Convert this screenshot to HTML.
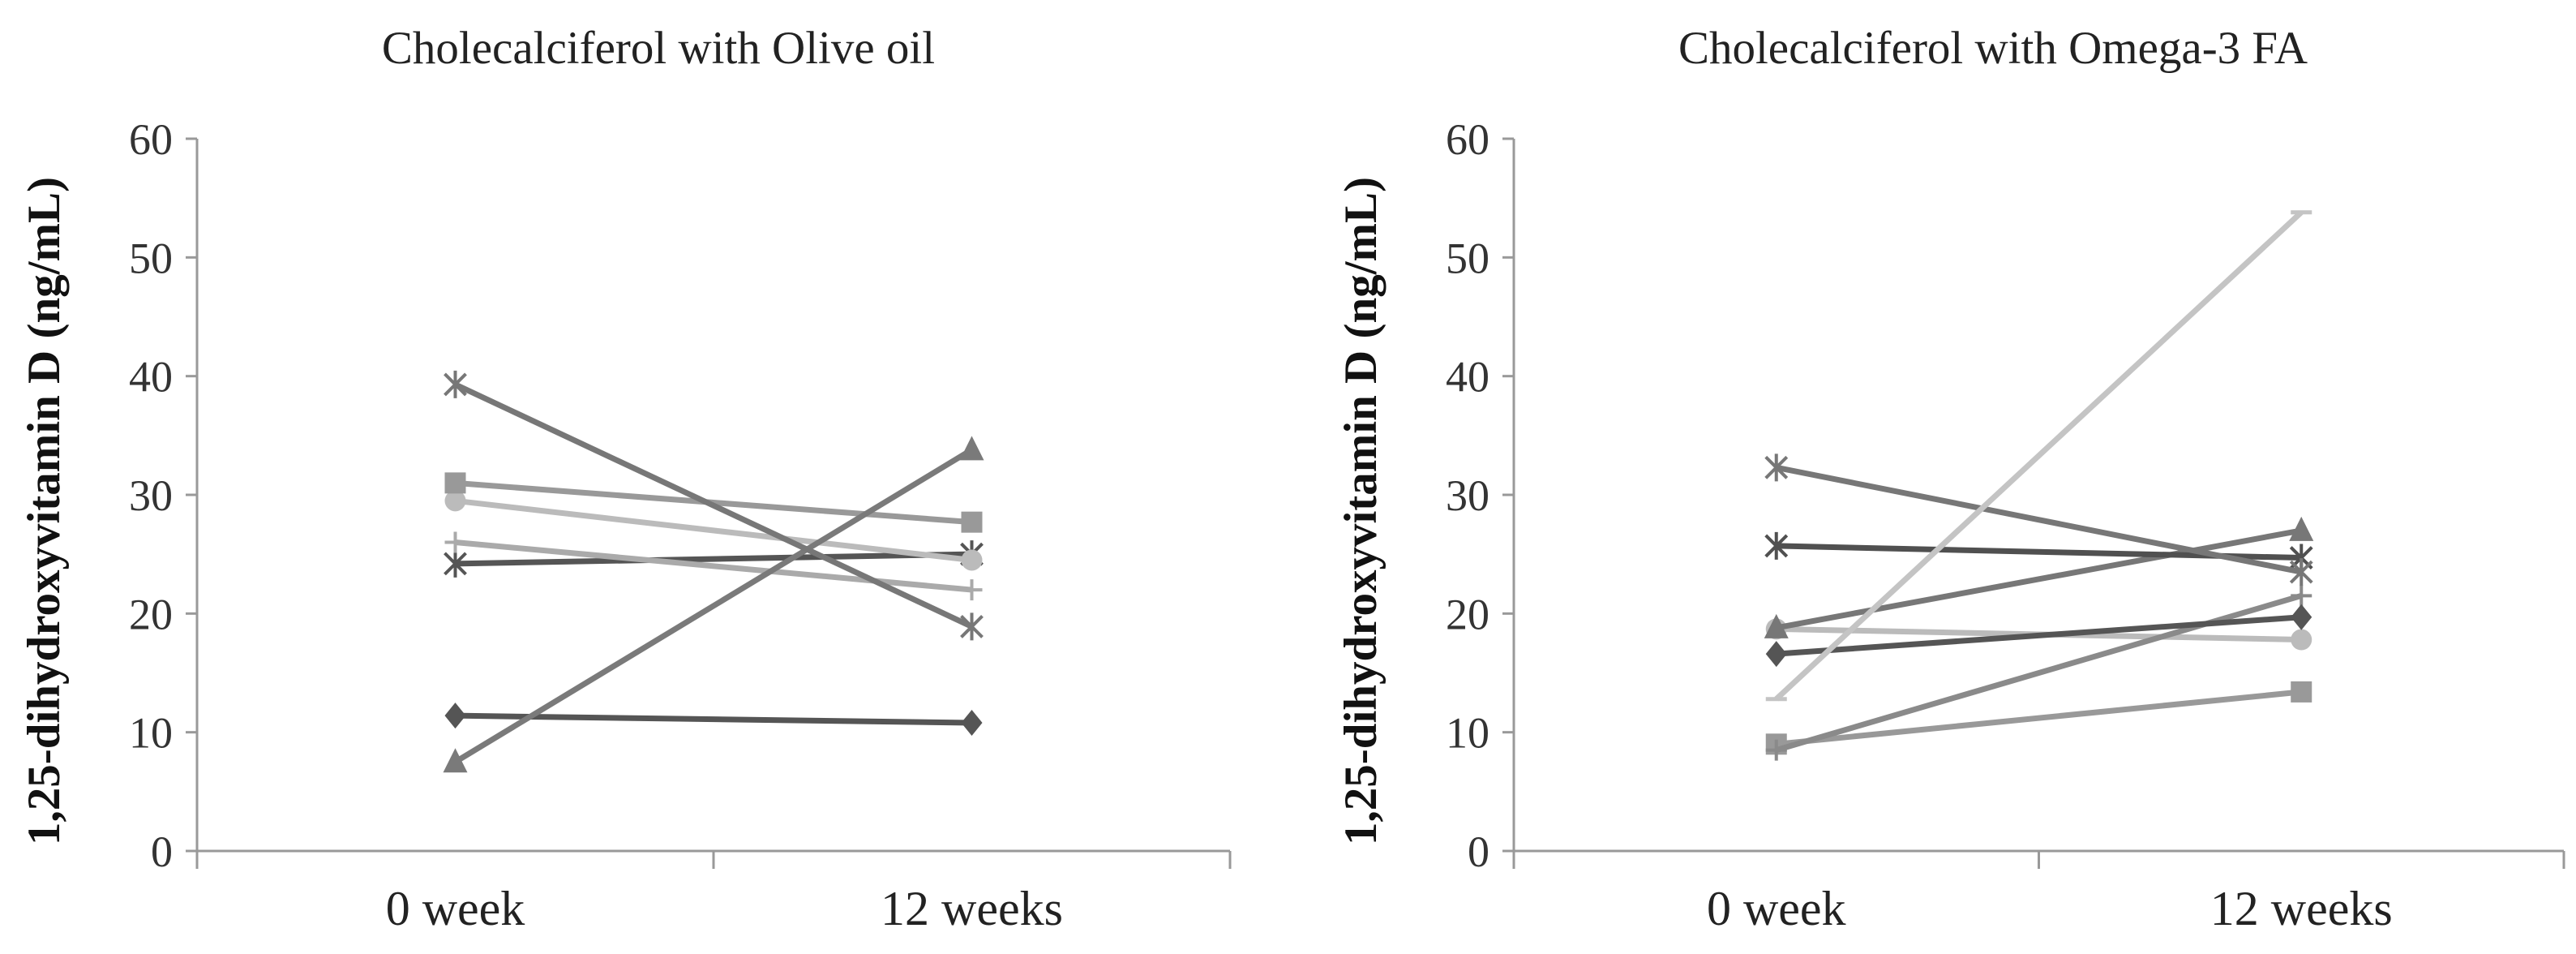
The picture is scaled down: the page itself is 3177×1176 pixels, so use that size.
<!DOCTYPE html>
<html><head><meta charset="utf-8"><style>
html,body{margin:0;padding:0;background:#fff;}
svg{display:block;font-family:"Liberation Serif",serif;}
</style></head><body>
<svg id="chart" width="3177" height="1176" viewBox="0 0 3177 1176" xmlns="http://www.w3.org/2000/svg"></svg>
<script>
const categories = ["0 week", "12 weeks"];
const yTicks = [0, 10, 20, 30, 40, 50, 60];
const titles = ["Cholecalciferol with Olive oil", "Cholecalciferol with Omega-3 FA"];
const yTitle = "1,25-dihydroxyvitamin D (ng/mL)";
// Olive oil panel series
const oliveX1 = [39.3, 18.9];
const oliveTri = [7.5, 33.8];
const oliveSq = [31.0, 27.7];
const oliveCirc = [29.5, 24.5];
const olivePlus = [26.0, 22.0];
const oliveX2 = [24.2, 25.0];
const oliveDia = [11.4, 10.8];
// Omega-3 panel series
const omegaX1 = [32.3, 23.5];
const omegaStar = [25.7, 24.7];
const omegaTri = [18.8, 27.0];
const omegaCirc = [18.7, 17.8];
const omegaDia = [16.6, 19.7];
const omegaDash = [12.8, 53.8];
const omegaSq = [9.0, 13.4];
const omegaPlus = [8.5, 21.5];

const NS = "http://www.w3.org/2000/svg";
const svg = document.getElementById("chart");
function mk(tag, attrs, parent) {
  const e = document.createElementNS(NS, tag);
  for (const k in attrs) e.setAttribute(k, attrs[k]);
  (parent || svg).appendChild(e);
  return e;
}
const panels = [
  {x0: 243, x1: 1517, title: titles[0], tx: 812, series: [
    {v: oliveX2, c: "#555", m: "x", n: "olive-x-dark"},
    {v: olivePlus, c: "#aaa", m: "plus", n: "olive-plus"},
    {v: oliveCirc, c: "#bbb", m: "circle", n: "olive-circle"},
    {v: oliveSq, c: "#999", m: "square", n: "olive-square"},
    {v: oliveDia, c: "#555", m: "diamond", n: "olive-diamond"},
    {v: oliveTri, c: "#7a7a7a", m: "triangle", n: "olive-triangle"},
    {v: oliveX1, c: "#777", m: "x", n: "olive-x"}
  ]},
  {x0: 1867, x1: 3162, title: titles[1], tx: 2458, series: [
    {v: omegaCirc, c: "#bbb", m: "circle", n: "omega-circle"},
    {v: omegaSq, c: "#999", m: "square", n: "omega-square"},
    {v: omegaPlus, c: "#8a8a8a", m: "plus", n: "omega-plus"},
    {v: omegaDia, c: "#555", m: "diamond", n: "omega-diamond"},
    {v: omegaTri, c: "#777", m: "triangle", n: "omega-triangle"},
    {v: omegaStar, c: "#505050", m: "x", n: "omega-star"},
    {v: omegaX1, c: "#777", m: "x", n: "omega-x"},
    {v: omegaDash, c: "#c4c4c4", m: "dash", n: "omega-dash"}
  ]}
];
const yBase = 1049, yTop = 171, yMax = 60;
function yScale(v) { return yBase - (v / yMax) * (yBase - yTop); }

panels.forEach((p, pi) => {
  const g = mk("g", {});
  
  
  const band = (p.x1 - p.x0) / categories.length;
  const xScale = i => p.x0 + band * (i + 0.5);
  const t = mk("text", {x: p.tx, y: 78, "font-size": 57, "text-anchor": "middle", fill: "#222"}, g);
  t.textContent = p.title;
  
  
  const yt = mk("text", {transform: `translate(${p.x0 - 170},${(yBase + yTop) / 2 + 20}) rotate(-90)`, "font-size": 57, "font-weight": "bold", "text-anchor": "middle", fill: "#111"}, g);
  yt.textContent = yTitle;
  
  
  const ax = mk("line", {x1: p.x0, y1: yTop, x2: p.x0, y2: yBase, stroke: "#999", "stroke-width": 3}, g);
  
  
  yTicks.forEach(v => {
    const y = yScale(v);
    mk("line", {x1: p.x0 - 14, y1: y, x2: p.x0, y2: y, stroke: "#999", "stroke-width": 3}, g);
    const tl = mk("text", {x: p.x0 - 30, y: y + 19, "font-size": 54, "text-anchor": "end", fill: "#333"}, g);
    tl.textContent = v;
    
    
  });
  const xa = mk("line", {x1: p.x0, y1: yBase, x2: p.x1, y2: yBase, stroke: "#999", "stroke-width": 3}, g);
  
  
  for (let i = 0; i <= categories.length; i++) {
    const x = p.x0 + band * i;
    mk("line", {x1: x, y1: yBase, x2: x, y2: yBase + 22, stroke: "#999", "stroke-width": 3}, g);
  }
  categories.forEach((c, i) => {
    const xl = mk("text", {x: xScale(i), y: 1140, "font-size": 60, "text-anchor": "middle", fill: "#222"}, g);
    xl.textContent = c;
    
    
  });
  p.series.forEach(s => {
    const sg = mk("g", {}, g);
    
    
    const pts = s.v.map((v, i) => [xScale(i), yScale(v)]);
    const ln = mk("polyline", {points: pts.map(q => q.join(",")).join(" "), fill: "none", stroke: s.c, "stroke-width": 7}, sg);
    
    
    pts.forEach(([x, y]) => {
      let m;
      const r = 13;
      if (s.m === "circle") m = mk("circle", {cx: x, cy: y, r: r, fill: s.c}, sg);
      else if (s.m === "square") m = mk("rect", {x: x - r, y: y - r, width: 2 * r, height: 2 * r, fill: s.c}, sg);
      else if (s.m === "diamond") m = mk("polygon", {points: `${x},${y-r-3} ${x+r},${y} ${x},${y+r+3} ${x-r},${y}`, fill: s.c}, sg);
      else if (s.m === "triangle") m = mk("polygon", {points: `${x},${y-r-4} ${x+r+2},${y+r} ${x-r-2},${y+r}`, fill: s.c}, sg);
      else if (s.m === "x") m = mk("path", {d: `M${x-r},${y-r}L${x+r},${y+r}M${x-r},${y+r}L${x+r},${y-r}M${x},${y-r-4}L${x},${y+r+4}`, stroke: s.c, "stroke-width": 4, fill: "none"}, sg);
      else if (s.m === "plus") m = mk("path", {d: `M${x-r},${y}L${x+r},${y}M${x},${y-r}L${x},${y+r}`, stroke: s.c, "stroke-width": 4, fill: "none"}, sg);
      else m = mk("path", {d: `M${x-r},${y}L${x+r},${y}`, stroke: s.c, "stroke-width": 5}, sg);
      
      
    });
  });
});
</script>
</body></html>
